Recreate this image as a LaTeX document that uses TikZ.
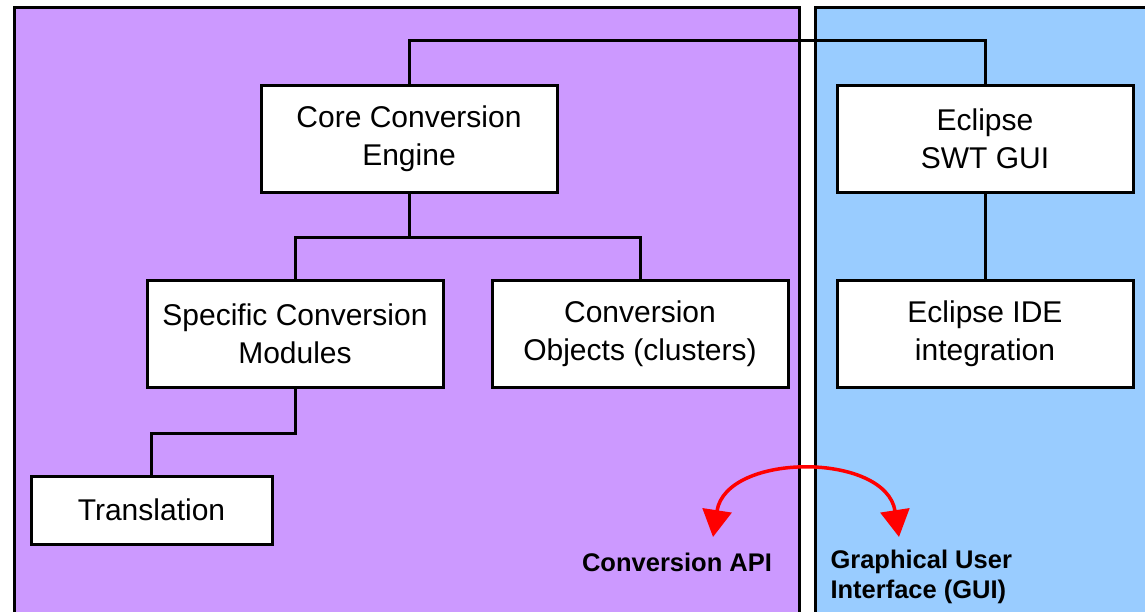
\documentclass[tikz,border=0pt]{standalone}
\usepackage{fontspec}
\setmainfont{Liberation Sans}
\usetikzlibrary{arrows.meta}
\definecolor{apiviolet}{RGB}{204,153,255}
\definecolor{guiblue}{RGB}{153,204,255}
\tikzset{
	box/.style={draw,line width=3pt,fill=white,minimum width=296pt,
		minimum height=107pt,align=center,
		font=\fontsize{30}{38}\selectfont},
	wire/.style={line width=3pt},
	panel/.style={draw,line width=3.5pt},
	tag/.style={font=\bfseries\fontsize{25.5}{30}\selectfont}
}
\begin{document}
\begin{tikzpicture}[x=1pt,y=-1pt]
					\clip (0,0) rectangle (1145,612);
					\path[panel,fill=apiviolet] (14.5,7.5) rectangle (799.5,640);
					\path[panel,fill=guiblue] (815.5,7.5) rectangle (1160,640);
					\foreach \n/\x/\y/\texn in {core/409/139/{Core Conversion\\Engine},
						swt/985/139/{Eclipse\\SWT GUI},
						mods/295/334/{Specific Conversion\\Modules},
						objs/640/334/{Conversion\\Objects (clusters)},
						ide/985/334/{Eclipse IDE\\integration}}
					\node[box] (\n) at (\x,\y) {\texn};
					\node[box,minimum width=241pt,minimum height=68pt] (trans) at (151.5,510) {Translation};
					\draw[wire] (core.north) -- ++(0,-43) -| (swt.north);
					\draw[wire] (core.south) -- ++(0,44) -| (mods.north);
					\draw[wire] (core.south) -- ++(0,44) -| (objs.north);
					\draw[wire] (mods.south) -- ++(0,44) -| (trans.north);
					\draw[wire] (swt) -- (ide);
					\coordinate (l) at (713,537);
					\coordinate (r) at (899,537);
					\draw[red,line width=3.5pt,{Triangle[length=27pt,width=29pt]}-{Triangle[length=27pt,width=29pt]}]
					(l) .. controls (726,452) and (886,452) .. (r);
					\node[tag] (api) at (677,562) {Conversion API};
					\node[tag,anchor=west,align=left] (gui) at (827,577) {Graphical User\\Interface (GUI)};
					\end{tikzpicture}
\end{document}
